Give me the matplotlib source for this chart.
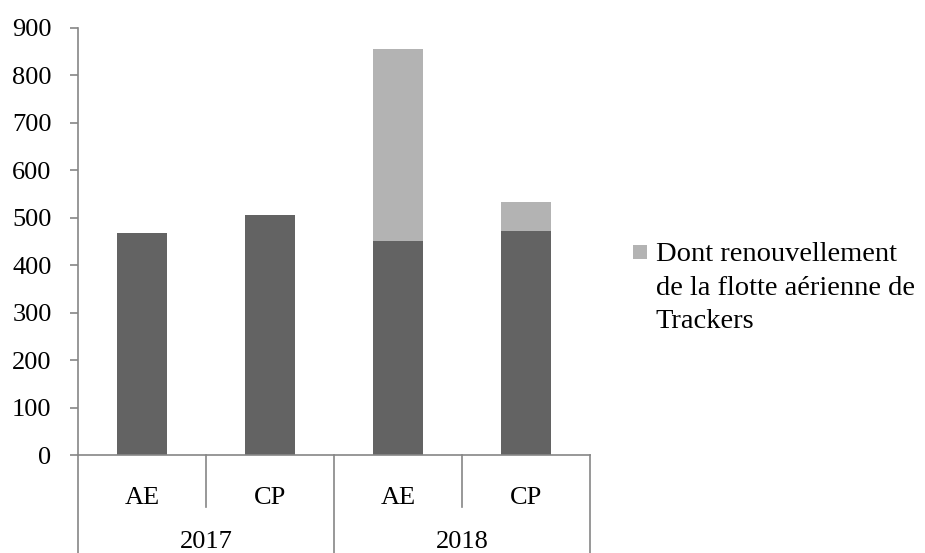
import numpy as np
import matplotlib.pyplot as plt
from matplotlib.patches import Patch, Rectangle
from matplotlib.legend_handler import HandlerPatch

years = ["2017", "2018"]
kinds = ["AE", "CP"]
base_values = [468, 506, 451, 472]
tracker_values = [0, 0, 404, 62]
legend_label = "Dont renouvellement\nde la flotte aérienne de\nTrackers"

dark = "#636363"
light = "#b3b3b3"
axis_grey = "#868686"
fs = 19
leg_fs = 20.5
line_gap = 1.24  # distance between legend lines, in font sizes

plt.rcParams["font.family"] = ["Liberation Serif", "DejaVu Serif"]


class TopSquareHandler(HandlerPatch):
    # put the legend square next to the first line instead of the middle one
    def create_artists(self, legend, orig_handle, xdescent, ydescent,
                       width, height, fontsize, trans):
        size = width
        y0 = -ydescent + height / 2 - size / 2 + line_gap * fontsize
        sq = Rectangle((-xdescent, y0), size, size, facecolor=orig_handle.get_facecolor(),
                       edgecolor="none", transform=trans)
        return [sq]


fig = plt.figure(figsize=(9.25, 5.53), dpi=100)
ax = fig.add_axes([78 / 925, 1 - 455 / 553, 512 / 925, 427 / 553])

x = np.arange(len(base_values))
ax.bar(x, base_values, width=0.39, color=dark, edgecolor="none")
ax.bar(x, tracker_values, width=0.39, bottom=base_values, color=light, edgecolor="none")

ax.set_xlim(-0.5, len(base_values) - 0.5)
ax.set_ylim(0, 900)
ax.set_yticks(range(0, 1000, 100))
ax.tick_params(axis="y", labelsize=fs, color=axis_grey, length=6, width=1.2, pad=13)
ax.set_xticks([])

for side in ["top", "right"]:
    ax.spines[side].set_visible(False)
for side in ["left", "bottom"]:
    ax.spines[side].set_color(axis_grey)
    ax.spines[side].set_linewidth(1.2)

# multi-level category axis drawn below the plot
trans = ax.get_xaxis_transform()
for i, xb in enumerate(np.arange(-0.5, len(base_values), 1.0)):
    bottom = -0.24 if i % 2 == 0 else -0.122
    ax.plot([xb, xb], [0, bottom], transform=trans, color=axis_grey,
            linewidth=1.2, clip_on=False)

for i in x:
    ax.text(i, -0.1, kinds[i % 2], transform=trans, ha="center", va="center", fontsize=fs)
for j, year in enumerate(years):
    ax.text(2 * j + 0.5, -0.203, year, transform=trans, ha="center", va="center", fontsize=fs)

handle = Patch(facecolor=light, edgecolor="none")
leg = fig.legend([handle], [legend_label], loc="upper left",
                 bbox_to_anchor=(633 / 925, 1 - 242 / 553),
                 frameon=False, handlelength=0.5, handleheight=0.7,
                 handletextpad=0.3, borderaxespad=0, borderpad=0,
                 prop={"size": leg_fs},
                 handler_map={Patch: TopSquareHandler()})
for t in leg.get_texts():
    t.set_linespacing(1.45)

fig.savefig("out.png", dpi=100)
